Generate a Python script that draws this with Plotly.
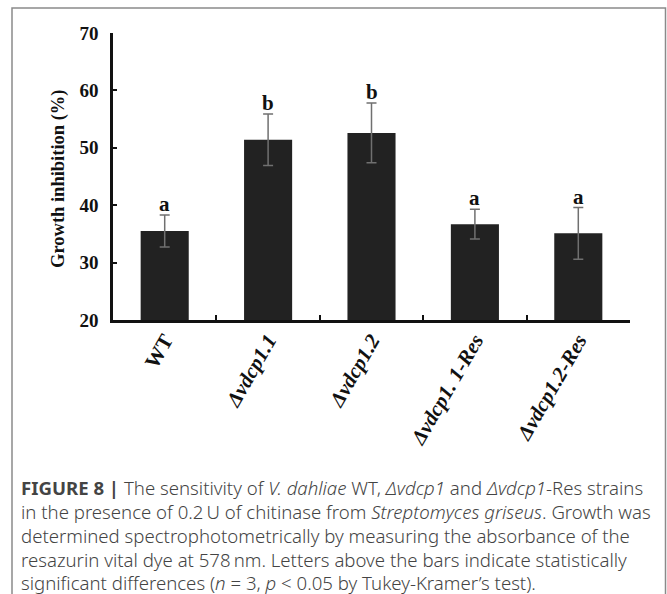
import plotly.graph_objects as go

# ---- data ----
categories = ["WT", "Δvdcp1.1", "Δvdcp1.2", "Δvdcp1. 1-Res", "Δvdcp1.2-Res"]
tick_labels = ["<b>WT</b>", "<b><i>Δvdcp1.1</i></b>", "<b><i>Δvdcp1.2</i></b>",
               "<b><i>Δvdcp1. 1-Res</i></b>", "<b><i>Δvdcp1.2-Res</i></b>"]
growth_inhibition = [35.5, 51.4, 52.6, 36.7, 35.1]
errors = [2.8, 4.5, 5.2, 2.6, 4.5]
sig_letters = ["a", "b", "b", "a", "a"]
y_ticks = [20, 30, 40, 50, 60, 70]
y_tick_text = ["<b>20</b>", "<b>30</b>", "<b>40</b>", "<b>50</b>", "<b>60</b>", "<b>70</b>"]

caption_lines = [
    "<b>FIGURE 8 |</b> The sensitivity of <i>V. dahliae</i> WT, <i>Δvdcp1</i> and <i>Δvdcp1</i>-Res strains",
    "in the presence of 0.2\u2009U of chitinase from <i>Streptomyces griseus</i>. Growth was",
    "determined spectrophotometrically by measuring the absorbance of the",
    "resazurin vital dye at 578\u2009nm. Letters above the bars indicate statistically",
    "significant differences (<i>n</i> = 3, <i>p</i> &lt; 0.05 by Tukey-Kramer’s test).",
]

W, H = 667, 594
SERIF = "Liberation Serif, Times New Roman, serif"
SANS = "Noto Sans, Liberation Sans, Arial, sans-serif"

fig = go.Figure()
fig.add_trace(go.Bar(
    x=categories, y=growth_inhibition,
    marker=dict(color="#222222", line=dict(width=0)),
    error_y=dict(type="data", array=errors, visible=True,
                 color="#707070", thickness=1.5, width=5),
    showlegend=False,
))

# significance letters
for c, v, e, s in zip(categories, growth_inhibition, errors, sig_letters):
    fig.add_annotation(x=c, y=v + e, xref="x", yref="y", text=f"<b>{s}</b>",
                       showarrow=False, yanchor="bottom", yshift=-3,
                       font=dict(family=SERIF, size=21, color="#111111"))

# y-axis title
fig.add_annotation(x=58 / W, y=1 - 179 / H, xref="paper", yref="paper",
                   text="<b>Growth inhibition (%)</b>", textangle=-90,
                   showarrow=False, xanchor="center", yanchor="middle",
                   font=dict(family=SERIF, size=18.5, color="#111111"))

# caption
line_y = [487, 511, 535, 559, 582]
for txt, yy in zip(caption_lines, line_y):
    fig.add_annotation(x=19 / W, y=1 - yy / H, xref="paper", yref="paper",
                       text=txt, showarrow=False, xanchor="left", yanchor="middle",
                       font=dict(family=SANS, size=18.6, color="#444444", weight=300))

# outer frame
fig.add_shape(type="rect", xref="paper", yref="paper",
              x0=12 / W, x1=665.5 / W, y0=-0.05, y1=1 - 8 / H,
              line=dict(color="#8a8a8a", width=1.5), fillcolor="rgba(0,0,0,0)")

fig.update_layout(
    width=W, height=H,
    margin=dict(l=0, r=0, t=0, b=0),
    paper_bgcolor="white", plot_bgcolor="white",
    bargap=0.535,
    xaxis=dict(domain=[113 / W, 630 / W], type="category",
               tickmode="array", tickvals=categories, ticktext=tick_labels,
               tickangle=-60, tickson="boundaries", ticks="inside",
               ticklen=5, tickwidth=2, tickcolor="#111111",
               showline=True, linecolor="#111111", linewidth=2.5,
               showgrid=False, zeroline=False, automargin=False,
               ticklabelstandoff=-3,
               tickfont=dict(family=SERIF, size=21, color="#111111")),
    yaxis=dict(domain=[1 - 320 / H, 1 - 33 / H], range=[20, 70],
               tickmode="array", tickvals=y_ticks, ticktext=y_tick_text,
               ticks="inside", ticklen=4, tickwidth=2, tickcolor="#111111",
               showline=True, linecolor="#111111", linewidth=2.5,
               showgrid=False, zeroline=False, automargin=False,
               ticklabelstandoff=8,
               tickfont=dict(family=SERIF, size=19, color="#111111")),
)

fig.write_html("out.html", config={"displayModeBar": False},
               post_script="document.body.style.margin='0px';document.body.style.overflow='hidden';")
